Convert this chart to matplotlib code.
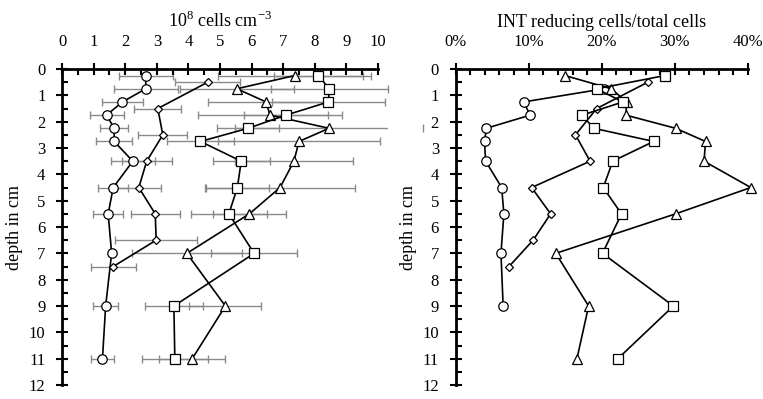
import matplotlib
matplotlib.use("Agg")
import matplotlib.pyplot as plt
from matplotlib.patches import Rectangle
from matplotlib.ticker import MultipleLocator

plt.rcParams["font.family"] = ["Liberation Serif", "DejaVu Serif"]
plt.rcParams["mathtext.fontset"] = "custom"
plt.rcParams["mathtext.rm"] = "Liberation Serif"
plt.rcParams["axes.unicode_minus"] = False

# depths (cm)
depth = [0.25, 0.75, 1.25, 1.75, 2.25, 2.75, 3.5, 4.5, 5.5, 7, 9, 11]
depth_diam = [0.5, 1.5, 2.5, 3.5, 4.5, 5.5, 6.5, 7.5]
depth_circ_r = [0.75, 1.25, 1.75, 2.25, 2.75, 3.5, 4.5, 5.5, 7, 9]

# left panel: 10^8 cells cm^-3
circ = [2.65, 2.65, 1.91, 1.41, 1.65, 1.65, 2.24, 1.62, 1.46, 1.57, 1.38, 1.28]
circ_err = [0.86, 1.02, 0.64, 0.54, 0.44, 0.58, 0.69, 0.47, 0.47, 0.0, 0.39, 0.37]
diam = [4.61, 3.03, 3.19, 2.68, 2.43, 2.95, 2.98, 1.62]
diam_err = [1.03, 0.74, 0.78, 0.79, 0.70, 0.78, 1.29, 0.71]
tri = [7.36, 5.53, 6.46, 6.58, 8.45, 7.50, 7.34, 6.90, 5.93, 3.95, 5.17, 4.12]
tri_err = [2.41, 1.80, 1.83, 2.27, 2.98, 2.55, 1.87, 2.37, 1.16, 1.74, 1.14, 1.04]
sq = [8.11, 8.46, 8.43, 7.09, 5.89, 4.38, 5.67, 5.55, 5.28, 6.08, 3.54, 3.57]
sq_err = [1.40, 1.86, 1.79, 1.32, 0.98, 1.07, 0.90, 1.00, 1.21, 1.35, 0.91, 1.05]

# right panel: INT reducing cells / total cells (%)
circ_r = [20.3, 9.3, 10.2, 4.2, 3.95, 4.1, 6.3, 6.6, 6.2, 6.5]
diam_r = [26.3, 19.3, 16.4, 18.4, 10.4, 13.0, 10.6, 7.3]
tri_r = [15.0, 21.3, 23.4, 23.3, 30.1, 34.2, 34.0, 40.4, 30.1, 13.7, 18.2, 16.6]
sq_r = [28.6, 19.3, 22.9, 17.3, 18.9, 27.1, 21.5, 20.2, 22.7, 20.1, 29.8, 22.2]

pct_ticks = [0, 10, 20, 30, 40]
pct_labels = [f"{v}%" for v in pct_ticks]

fig = plt.figure(figsize=(7.63, 3.99), dpi=100)
ax1 = fig.add_axes([0.0813, 0.035, 0.4141, 0.792])
ax2 = fig.add_axes([0.5972, 0.035, 0.3830, 0.792])

line_kw = dict(color="black", lw=1.2, mec="black", mfc="white", mew=0.9)
styles = {"o": 6.8, "D": 4.5, "^": 7, "s": 6.8}


def style_axis(ax):
    ax.set_ylim(12, 0)
    ax.xaxis.tick_top()
    ax.xaxis.set_label_position("top")
    for s in ("right", "bottom"):
        ax.spines[s].set_visible(False)
    for s in ("left", "top"):
        ax.spines[s].set_linewidth(2)
    ax.yaxis.set_major_locator(MultipleLocator(1))
    ax.yaxis.set_minor_locator(MultipleLocator(0.5))
    ax.tick_params(which="major", direction="inout", length=8, width=1.5,
                   labelsize=12)
    ax.tick_params(which="minor", direction="in", length=4, width=1.5)
    ax.tick_params(axis="x", which="major", pad=10)
    ax.tick_params(axis="y", which="major", pad=8)
    ax.set_ylabel("depth in cm", fontsize=13, labelpad=4)
    for lab in ax.get_xticklabels() + ax.get_yticklabels():
        lab.set_fontfamily(["Liberation Serif", "DejaVu Serif"])


# left panel
clip = Rectangle((0, 0), 1.032, 1, transform=ax1.transAxes)
for y, x, e in [(depth, circ, circ_err), (depth_diam, diam, diam_err),
                (depth, tri, tri_err), (depth, sq, sq_err)]:
    eb = ax1.errorbar(x, y, xerr=e, fmt="none", ecolor="#8a8a8a",
                      elinewidth=1, capsize=3, capthick=1, zorder=1)
    for art in eb.lines[1] + eb.lines[2]:
        art.set_clip_on(True)
        art.set_clip_path(clip)

ax1.plot(circ, depth, marker="o", ms=styles["o"], zorder=3, **line_kw)
ax1.plot(diam, depth_diam, marker="D", ms=styles["D"], zorder=3, **line_kw)
ax1.plot(tri, depth, marker="^", ms=styles["^"], zorder=3, **line_kw)
ax1.plot(sq, depth, marker="s", ms=styles["s"], zorder=3, **line_kw)

ax1.set_xlim(0, 10)
ax1.xaxis.set_major_locator(MultipleLocator(1))
ax1.xaxis.set_minor_locator(MultipleLocator(0.5))
ax1.set_xlabel("10$^{8}$ cells cm$^{-3}$", fontsize=13, labelpad=5)
style_axis(ax1)

# right panel
ax2.plot(circ_r, depth_circ_r, marker="o", ms=styles["o"], zorder=3, **line_kw)
ax2.plot(diam_r, depth_diam, marker="D", ms=styles["D"], zorder=3, **line_kw)
ax2.plot(tri_r, depth, marker="^", ms=styles["^"], zorder=3, **line_kw)
ax2.plot(sq_r, depth, marker="s", ms=styles["s"], zorder=4, **line_kw)

ax2.set_xlim(0, 40)
ax2.set_xticks(pct_ticks)
ax2.set_xticklabels(pct_labels)
ax2.xaxis.set_minor_locator(MultipleLocator(2))
ax2.set_xlabel("INT reducing cells/total cells", fontsize=13, labelpad=5)
style_axis(ax2)
for a in (ax1, ax2):
    for art in a.lines:
        art.set_clip_on(False)

fig.savefig("out.png", dpi=100)
